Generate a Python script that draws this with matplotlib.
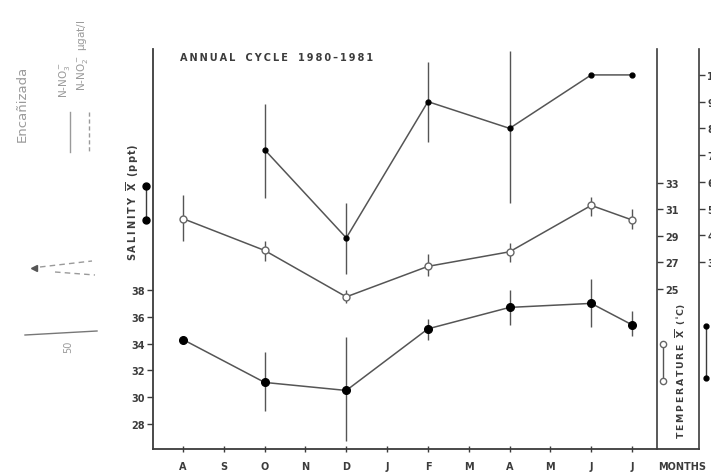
import matplotlib
matplotlib.use("Agg")
import matplotlib.pyplot as plt
from matplotlib.lines import Line2D

# months Aug 1980 - Jul 1981
months = ["A", "S", "O", "N", "D", "J", "F", "M", "A", "M", "J", "J"]
sample_idx = [0, 2, 4, 6, 8, 10, 11]

salinity = [34.3, 31.1, 30.5, 35.1, 36.7, 37.0, 35.4]
sal_lo = [34.3, 29.0, 26.7, 34.3, 35.4, 35.2, 34.6]
sal_hi = [34.3, 33.4, 34.5, 35.8, 38.0, 38.8, 36.4]

temperature = [30.3, 27.9, 24.4, 26.7, 27.8, 31.3, 30.2]
temp_lo = [28.6, 27.1, 23.9, 26.0, 27.0, 30.5, 29.5]
temp_hi = [32.1, 28.6, 24.9, 27.6, 28.5, 31.9, 31.0]

nitrate_idx = [2, 4, 6, 8, 10, 11]
nitrate = [7.2, 3.9, 9.0, 8.0, 10.0, 10.0]
nit_lo = [5.4, 2.55, 7.5, 5.2, 10.0, 10.0]
nit_hi = [8.9, 5.2, 10.5, 10.9, 10.0, 10.0]

sal_ticks = [28, 30, 32, 34, 36, 38]
temp_ticks = [25, 27, 29, 31, 33]
nit_ticks = [3, 4, 5, 6, 7, 8, 9, 10]

ink = "#3c3c3c"
line_c = "#555555"
ghost = "#9a9a9a"
thin = "\u2009"

W, H = 711, 477
fig = plt.figure(figsize=(W / 100, H / 100), dpi=100)
ax = fig.add_axes([153 / W, 1 - 450 / H, (699 - 153) / W, 400 / H])

ax.set_xlim(-0.735, 12.64)
ax.set_ylim(26.13, 55.99)
for s in ["top", "right"]:
    ax.spines[s].set_visible(False)
for s in ["left", "bottom"]:
    ax.spines[s].set_color(ink)
    ax.spines[s].set_linewidth(1.3)
ax.set_xticks(range(len(months)))
ax.set_xticklabels(months)
ax.set_yticks(sal_ticks)
ax.tick_params(axis="x", direction="inout", length=5, width=1, colors=ink,
               labelsize=7, pad=6)
ax.tick_params(axis="y", direction="out", length=4, width=1, colors=ink,
               labelsize=7, pad=2)
for t in ax.get_xticklabels() + ax.get_yticklabels():
    t.set_fontweight("bold")

# salinity
ax.vlines(sample_idx, sal_lo, sal_hi, color=line_c, lw=1)
ax.plot(sample_idx, salinity, "-o", color=line_c, lw=1.1, ms=5.5,
        mfc="black", mec="black", zorder=3)

# temperature axis
ax2 = ax.twinx()
ax2.set_ylim(12.92, 43.1)
for s in ["top", "left", "bottom"]:
    ax2.spines[s].set_visible(False)
ax2.spines["right"].set_position(("axes", (657 - 153) / 546))
ax2.spines["right"].set_color(ink)
ax2.spines["right"].set_linewidth(1.2)
ax2.set_yticks(temp_ticks)
ax2.tick_params(axis="y", direction="out", length=4, width=1, colors=ink,
                labelsize=7, pad=2)
for t in ax2.get_yticklabels():
    t.set_fontweight("bold")
ax2.vlines(sample_idx, temp_lo, temp_hi, color=line_c, lw=1)
ax2.plot(sample_idx, temperature, "-o", color=line_c, lw=1.1, ms=5,
         mfc="white", mec="#666666", mew=1, zorder=3)

# nitrate axis
ax3 = ax.twinx()
ax3.set_ylim(-4.0, 10.97)
for s in ["top", "left", "bottom"]:
    ax3.spines[s].set_visible(False)
ax3.spines["right"].set_color(ink)
ax3.spines["right"].set_linewidth(1.2)
ax3.set_yticks(nit_ticks)
ax3.tick_params(axis="y", direction="out", length=4, width=1, colors=ink,
                labelsize=7, pad=2)
for t in ax3.get_yticklabels():
    t.set_fontweight("bold")
ax3.vlines(nitrate_idx, nit_lo, nit_hi, color=line_c, lw=1)
ax3.plot(nitrate_idx, nitrate, "-o", color=line_c, lw=1.1, ms=3.5,
         mfc="black", mec="black", zorder=3)


def px(x, y):
    return x / W, 1 - y / H


def spaced(s):
    return thin.join(s)


fig.text(*px(180, 58), "   ".join(spaced(w) for w in ["ANNUAL", "CYCLE", "1980–1981"]),
         fontsize=7, fontweight="bold", color=ink, ha="left", va="center")
fig.text(*px(682, 467), "MONTHS", fontsize=7, fontweight="bold", color=ink,
         ha="center", va="center")
fig.text(*px(133, 202),
         spaced("SALINITY") + "  " + r"$\mathbf{\overline{X}}$" + "  (" + spaced("ppt") + ")",
         fontsize=7, fontweight="bold", color=ink, rotation=90,
         ha="center", va="center")
fig.text(*px(681, 371),
         spaced("TEMPERATURE") + "  " + r"$\mathbf{\overline{X}}$" + "  ($^{\circ}$C)",
         fontsize=6.7, fontweight="bold", color=ink, rotation=90,
         ha="center", va="center")

# small series keys
fig.add_artist(Line2D([146 / W, 146 / W], [1 - 187 / H, 1 - 221 / H],
                      color=ink, lw=1, marker="o", ms=5, mfc="black", mec="black"))
fig.add_artist(Line2D([663 / W, 663 / W], [1 - 345 / H, 1 - 382 / H],
                      color=line_c, lw=1, marker="o", ms=4.5, mfc="white",
                      mec="#666666"))
fig.add_artist(Line2D([706 / W, 706 / W], [1 - 327 / H, 1 - 379 / H],
                      color=ink, lw=1, marker="o", ms=3.5, mfc="black", mec="black"))

# faint print-through from the facing page
fig.text(*px(22, 104), "Encañizada", fontsize=9.5, color=ghost, rotation=90,
         ha="center", va="center")
fig.text(*px(64, 80), r"N-NO$_3^-$", fontsize=7.5, color=ghost, rotation=90,
         ha="center", va="center")
fig.text(*px(82, 55), r"N-NO$_2^-$ µgat/l", fontsize=7.5, color=ghost,
         rotation=90, ha="center", va="center")
fig.add_artist(Line2D([70 / W, 70 / W], [1 - 113 / H, 1 - 153 / H],
                      color=ghost, lw=1))
fig.add_artist(Line2D([89 / W, 89 / W], [1 - 113 / H, 1 - 153 / H],
                      color=ghost, lw=1, ls=(0, (3, 2))))
fig.add_artist(Line2D([40 / W, 92 / W], [1 - 268 / H, 1 - 262 / H],
                      color=ghost, lw=1, ls=(0, (4, 3))))
fig.add_artist(Line2D([55 / W, 95 / W], [1 - 273 / H, 1 - 276 / H],
                      color=ghost, lw=1, ls=(0, (4, 3))))
fig.add_artist(Line2D([34 / W], [1 - 269 / H], color="#555555", marker="<",
                      ms=5, lw=0))
fig.add_artist(Line2D([25 / W, 97 / W], [1 - 336 / H, 1 - 332 / H],
                      color="#777777", lw=1))
fig.text(*px(68, 347), "50", fontsize=7, color=ghost, rotation=90,
         ha="center", va="center")

fig.savefig("out.png", dpi=100)
